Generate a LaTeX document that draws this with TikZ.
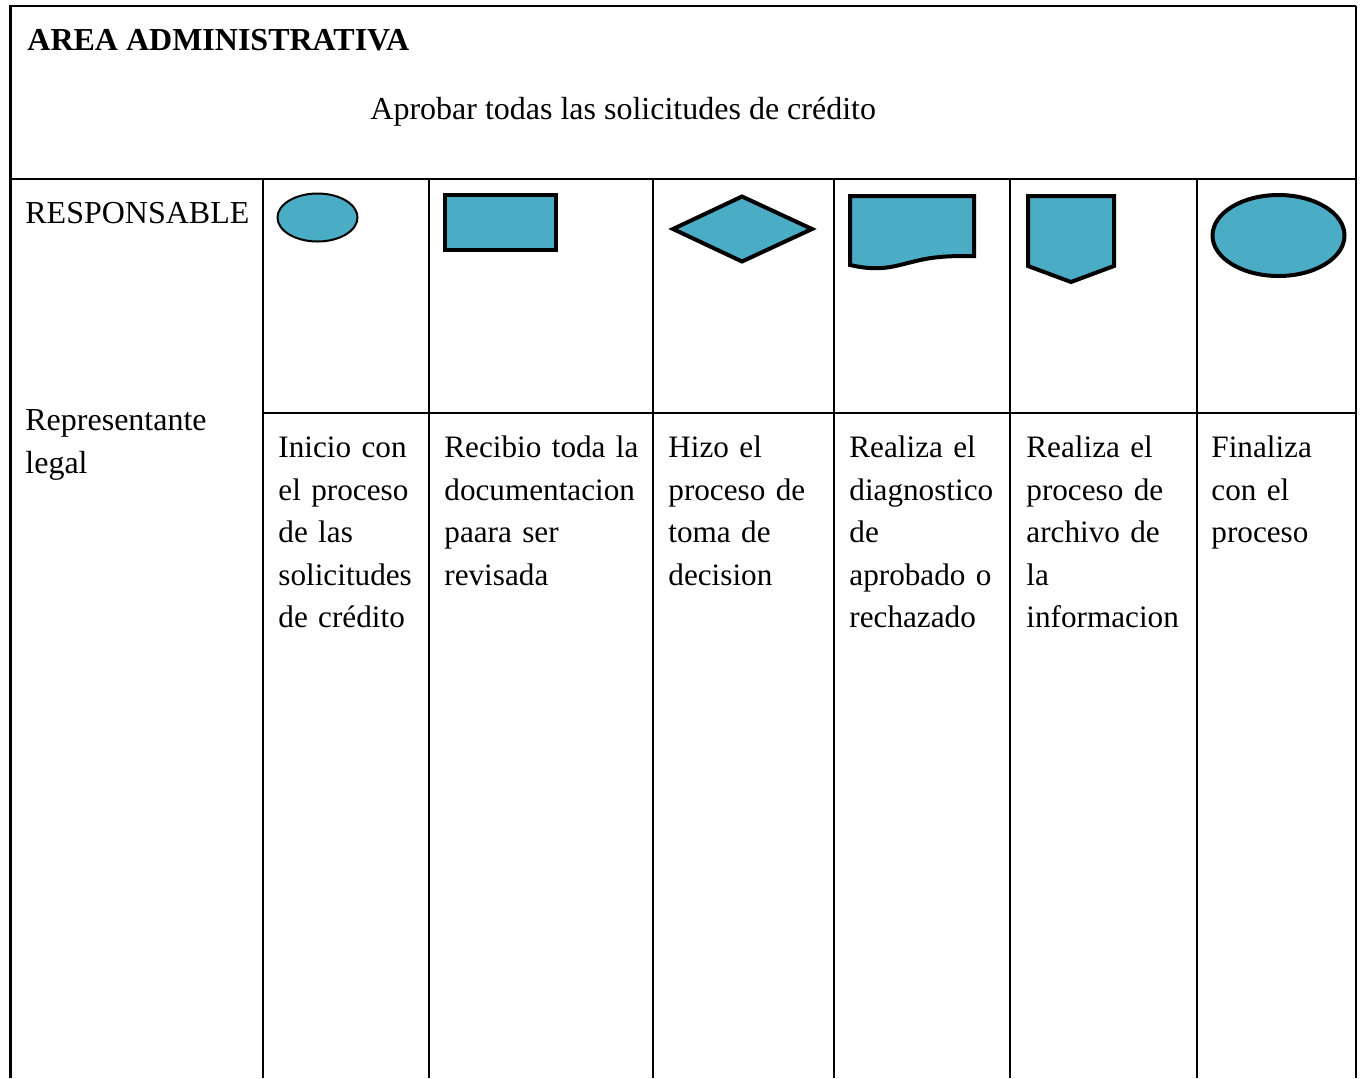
\documentclass[tikz,border=0pt]{standalone}
\usepackage{fontspec}
\setmainfont{Liberation Serif}
\definecolor{aqua}{HTML}{4BACC6}
\begin{document}
\begin{tikzpicture}[x=0.5pt,y=-0.5pt,
  grid/.style={line width=1pt,black},
  shp/.style={fill=aqua,draw=black,line width=2pt,line join=miter},
  txt/.style={anchor=base west,inner sep=0pt,font=\fontsize{16}{21.25}\selectfont},
  cell/.style={txt,align=left,text width=#1,font=\fontsize{15.6}{21.25}\selectfont}]
\useasboundingbox (0,0) rectangle (1361,1078);
% table frame
\draw[grid] (10,6) -- (1356,6);
\draw[line width=1.5pt] (10,5) -- (10,1078);
\draw[grid] (1356,6) -- (1356,1078);
\draw[grid] (10,179) -- (1356,179);
\foreach \x in {263,429,653,834,1010,1197} \draw[grid] (\x,179) -- (\x,1078);
\draw[grid] (263,413) -- (1356,413);
% headings
\node[txt,font=\fontsize{16}{21.25}\selectfont\bfseries] (title) at (27,50) {AREA ADMINISTRATIVA};
\node[txt] (aim) at (370,119.3) {Aprobar todas las solicitudes de crédito};
\node[txt] (resp) at (25,223) {RESPONSABLE};
\node[cell=115pt,font=\fontsize{16}{21.25}\selectfont] (who) at (25,430.7) {Representante\\legal};
% symbols
\draw[shp,line width=1pt] (317.5,217.5) ellipse [x radius=40,y radius=24];
\draw[shp] (445,195) rectangle (556,250);
\draw[shp] (673,229) -- (742,196.5) -- (812,229) -- (742,261.5) -- cycle;
\draw[shp] (850,196) -- (974,196) -- (974,256)
  .. controls (950,256) and (935,256) .. (912,262)
  .. controls (895,266) and (880,272) .. (850,265) -- cycle;
\draw[shp] (1028,196) -- (1114,196) -- (1114,266) -- (1071,282) -- (1028,266) -- cycle;
\draw[shp] (1278.5,235.5) ellipse [x radius=66,y radius=40.5];
% descriptions
\node[cell=80pt] (d1) at (278,457.5) {Inicio con\\el proceso\\de las\\solicitudes\\de crédito};
\node[cell=105pt] (d2) at (444,457.5) {Recibio toda la\\documentacion\\paara ser\\revisada};
\node[cell=85pt] (d3) at (668,457.5) {Hizo el\\proceso de\\toma de\\decision};
\node[cell=85pt] (d4) at (849,457.5) {Realiza el\\diagnostico\\de\\aprobado o\\rechazado};
\node[cell=90pt] (d5) at (1026,457.5) {Realiza el\\proceso de\\archivo de\\la\\informacion};
\node[cell=75pt] (d6) at (1211,457.5) {Finaliza\\con el\\proceso};
\end{tikzpicture}
\end{document}
